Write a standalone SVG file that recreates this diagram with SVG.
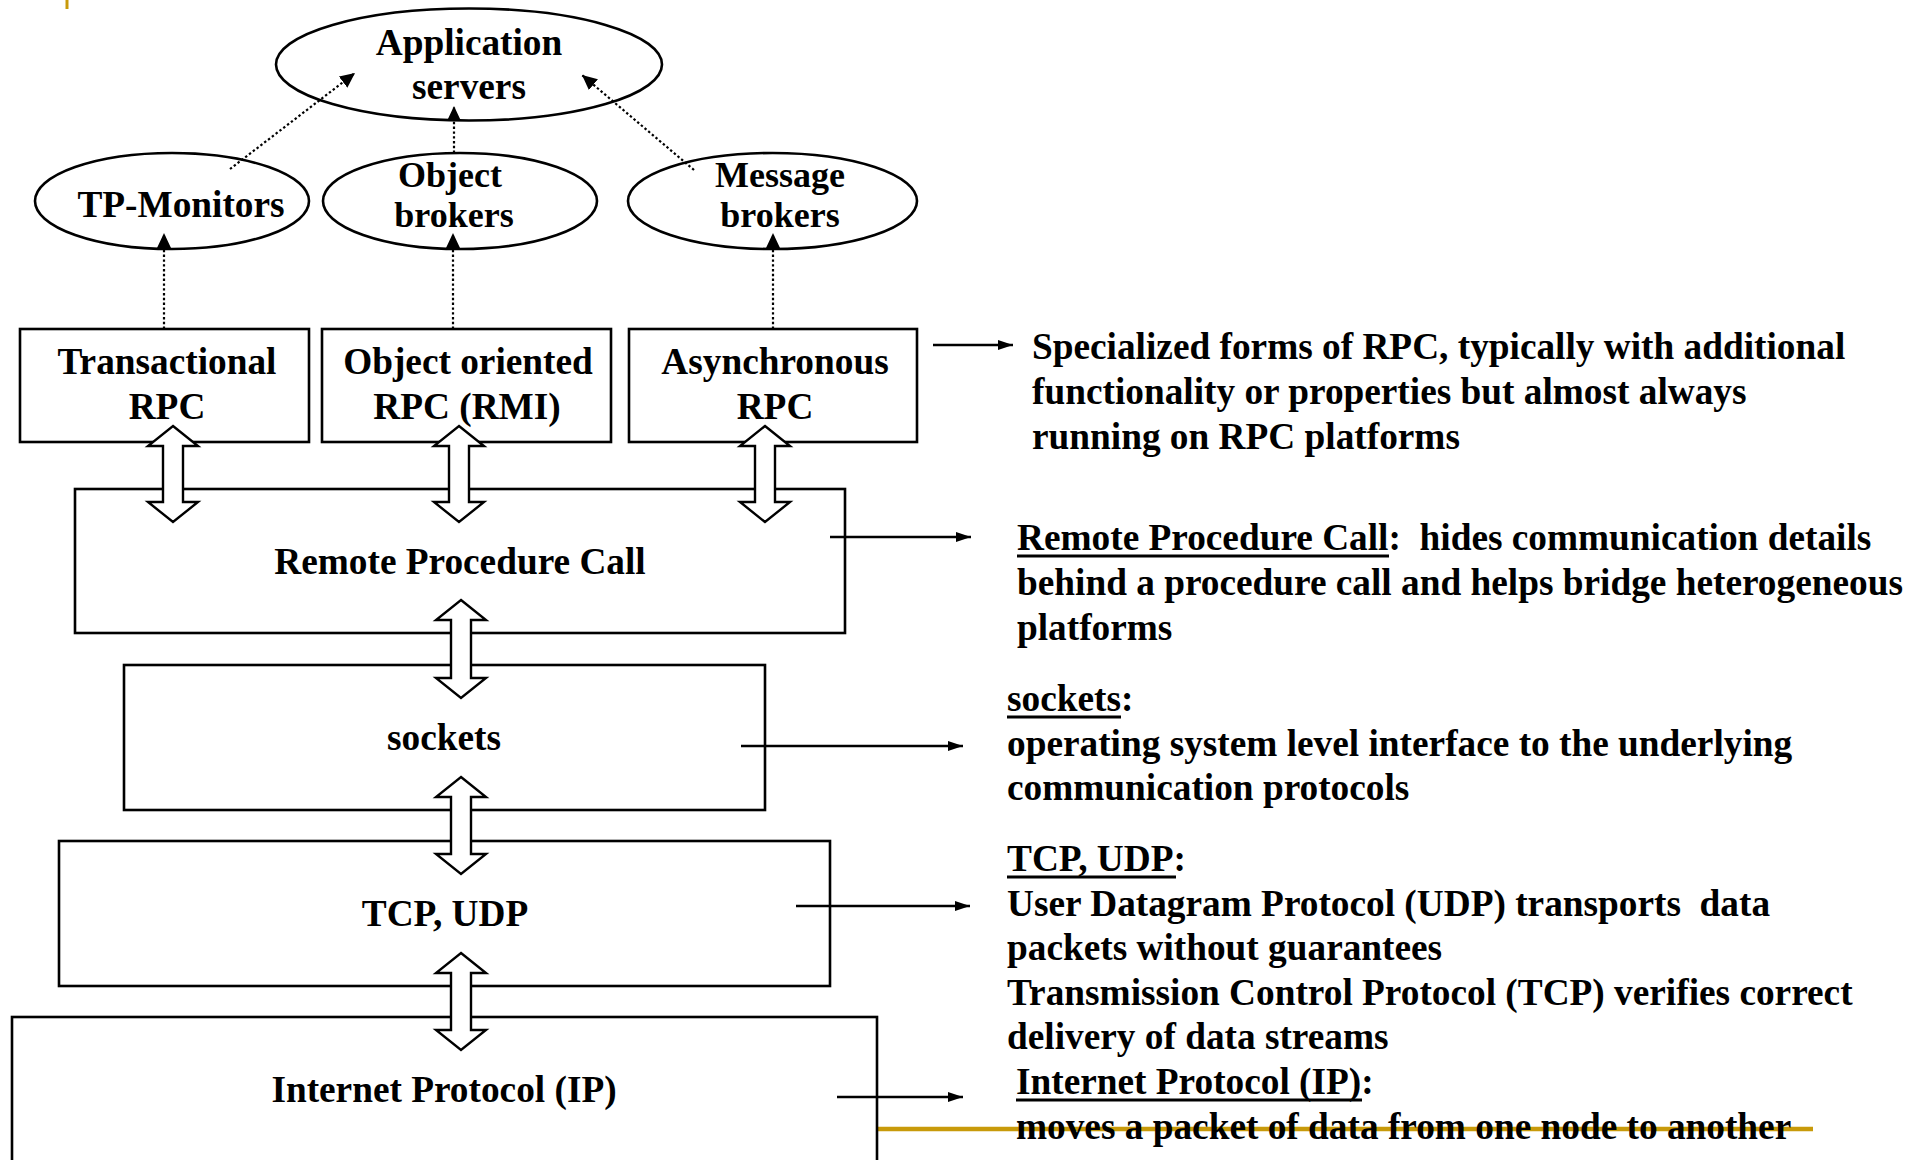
<svg xmlns="http://www.w3.org/2000/svg" width="1924" height="1160" viewBox="0 0 1924 1160">
  <style>
    text { font-family: "Liberation Serif", "Times New Roman", serif; font-weight: bold; font-size: 37.3px; fill: #000; white-space: pre; }
    .c { text-anchor: middle; }
    .tight { font-size: 36px; }
    .box { fill: #fff; stroke: #000; stroke-width: 2.6; }
    .ell { fill: #fff; stroke: #000; stroke-width: 2.6; }
    .dbl { fill: #fff; stroke: #000; stroke-width: 2.4; stroke-linejoin: miter; }
    .dot { fill: none; stroke: #000; stroke-width: 2.2; stroke-dasharray: 2.4 2.4; marker-end: url(#headDot); }
    .sol { fill: none; stroke: #000; stroke-width: 2.6; marker-end: url(#headSolid); }
    .ul { stroke: #000; stroke-width: 3; }
    .gold { stroke: #c89a0a; }
  </style>
  <defs>
    <marker id="headDot" viewBox="0 0 15 14" refX="15" refY="7" markerWidth="15" markerHeight="14" markerUnits="userSpaceOnUse" orient="auto">
      <path d="M0,0 L15,7 L0,14 Z" fill="#000"/>
    </marker>
    <marker id="headSolid" viewBox="0 0 15 10" refX="15" refY="5" markerWidth="15" markerHeight="10" markerUnits="userSpaceOnUse" orient="auto">
      <path d="M0,0 L15,5 L0,10 Z" fill="#000"/>
    </marker>
  </defs>

  <rect x="0" y="0" width="1924" height="1160" fill="#fff"/>

  <!-- slide template rules -->
  <line class="gold" x1="67" y1="0" x2="67" y2="9" stroke-width="3"/>
  <line class="gold" x1="877" y1="1129" x2="1813" y2="1129" stroke-width="4.5"/>

  <!-- middleware platforms -->
  <g id="app-servers">
    <ellipse class="ell" cx="469" cy="64.5" rx="193" ry="56"/>
    <text class="c" x="469" y="55">Application</text>
    <text class="c" x="469" y="99">servers</text>
  </g>
  <g id="tp-monitors">
    <ellipse class="ell" cx="172" cy="201" rx="137" ry="48"/>
    <text class="c" x="181" y="217">TP-Monitors</text>
  </g>
  <g id="object-brokers">
    <ellipse class="ell" cx="460" cy="201" rx="137" ry="48"/>
    <text class="c tight" x="450" y="186.5">Object</text>
    <text class="c tight" x="454" y="226.5">brokers</text>
  </g>
  <g id="message-brokers">
    <ellipse class="ell" cx="772.5" cy="201" rx="144.5" ry="48"/>
    <text class="c tight" x="780" y="186.5">Message</text>
    <text class="c tight" x="780" y="226.5">brokers</text>
  </g>

  <!-- RPC variants -->
  <g id="transactional-rpc">
    <rect class="box" x="20" y="329" width="289" height="113"/>
    <text class="c" x="167" y="374">Transactional</text>
    <text class="c" x="167" y="419">RPC</text>
  </g>
  <g id="object-rpc">
    <rect class="box" x="322" y="329" width="289" height="113"/>
    <text class="c" x="468" y="374">Object oriented</text>
    <text class="c" x="467" y="419">RPC (RMI)</text>
  </g>
  <g id="async-rpc">
    <rect class="box" x="629" y="329" width="288" height="113"/>
    <text class="c" x="775" y="374">Asynchronous</text>
    <text class="c" x="775" y="419">RPC</text>
  </g>

  <!-- protocol layers -->
  <g id="rpc">
    <rect class="box" x="75" y="489" width="770" height="144"/>
    <text class="c" x="460" y="574">Remote Procedure Call</text>
  </g>
  <g id="sockets">
    <rect class="box" x="124" y="665" width="641" height="145"/>
    <text class="c" x="444" y="750">sockets</text>
  </g>
  <g id="tcp-udp">
    <rect class="box" x="59" y="841" width="771" height="145"/>
    <text class="c" x="445" y="926">TCP, UDP</text>
  </g>
  <g id="ip">
    <rect class="box" x="12" y="1017" width="865" height="200"/>
    <text class="c" x="444" y="1102">Internet Protocol (IP)</text>
  </g>

  <!-- explanations -->
  <g id="note-variants">
    <text x="1032" y="359">Specialized forms of RPC, typically with additional</text>
    <text x="1032" y="404">functionality or properties but almost always</text>
    <text x="1032" y="449">running on RPC platforms</text>
  </g>
  <g id="note-rpc">
    <text x="1017" y="550">Remote Procedure Call:  hides communication details</text>
    <line class="ul" x1="1017" y1="556" x2="1389" y2="556"/>
    <text x="1017" y="595">behind a procedure call and helps bridge heterogeneous</text>
    <text x="1017" y="640">platforms</text>
  </g>
  <g id="note-sockets">
    <text x="1007" y="711">sockets:</text>
    <line class="ul" x1="1007" y1="717" x2="1121" y2="717"/>
    <text x="1007" y="756">operating system level interface to the underlying</text>
    <text x="1007" y="800">communication protocols</text>
  </g>
  <g id="note-tcp-udp">
    <text x="1007" y="871">TCP, UDP:</text>
    <line class="ul" x1="1007" y1="877" x2="1176" y2="877"/>
    <text x="1007" y="916">User Datagram Protocol (UDP) transports  data</text>
    <text x="1007" y="960">packets without guarantees</text>
    <text x="1007" y="1005">Transmission Control Protocol (TCP) verifies correct</text>
    <text x="1007" y="1049">delivery of data streams</text>
  </g>
  <g id="note-ip">
    <text x="1016" y="1094">Internet Protocol (IP):</text>
    <line class="ul" x1="1016" y1="1100" x2="1362" y2="1100"/>
    <text x="1016" y="1139">moves a packet of data from one node to another</text>
  </g>

  <!-- connectors -->
  <g id="connectors">
    <!-- platforms to application servers -->
    <line class="dot" x1="230" y1="169" x2="355" y2="73"/>
    <line class="dot" x1="454" y1="153" x2="454" y2="106"/>
    <line class="dot" x1="694" y1="170" x2="582" y2="75"/>
    <!-- RPC variants to platforms -->
    <line class="dot" x1="164" y1="329" x2="164" y2="233"/>
    <line class="dot" x1="453" y1="329" x2="453" y2="233"/>
    <line class="dot" x1="773" y1="329" x2="773" y2="233"/>
    <!-- pointers to explanations -->
    <line class="sol" x1="933" y1="345" x2="1013" y2="345"/>
    <line class="sol" x1="830" y1="537" x2="971" y2="537"/>
    <line class="sol" x1="741" y1="746" x2="963" y2="746"/>
    <line class="sol" x1="796" y1="906" x2="970" y2="906"/>
    <line class="sol" x1="837" y1="1097" x2="963" y2="1097"/>
    <!-- two-way layer arrows -->
    <path class="dbl" d="M173 426 L198 446 L183 446 L183 502 L198 502 L173 522 L148 502 L163 502 L163 446 L148 446 Z"/>
    <path class="dbl" d="M459 426 L484 446 L469 446 L469 502 L484 502 L459 522 L434 502 L449 502 L449 446 L434 446 Z"/>
    <path class="dbl" d="M765 426 L790 446 L775 446 L775 502 L790 502 L765 522 L740 502 L755 502 L755 446 L740 446 Z"/>
    <path class="dbl" d="M461 600 L486 620 L471 620 L471 678 L486 678 L461 698 L436 678 L451 678 L451 620 L436 620 Z"/>
    <path class="dbl" d="M461 777 L486 797 L471 797 L471 854 L486 854 L461 874 L436 854 L451 854 L451 797 L436 797 Z"/>
    <path class="dbl" d="M461 953 L486 973 L471 973 L471 1030 L486 1030 L461 1050 L436 1030 L451 1030 L451 973 L436 973 Z"/>
  </g>
</svg>
